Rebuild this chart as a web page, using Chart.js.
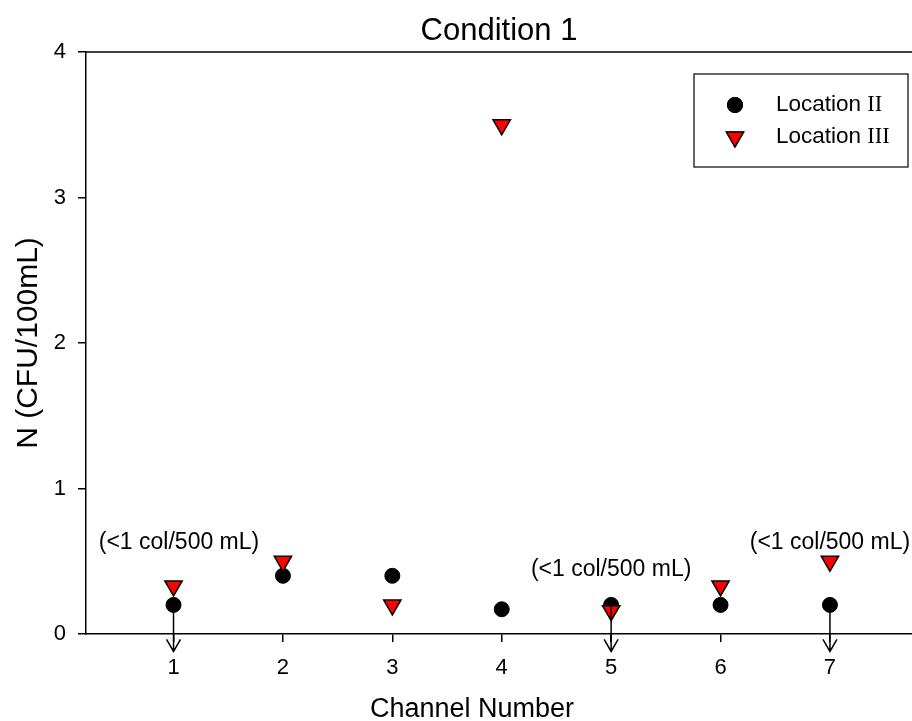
<!DOCTYPE html>
<html lang="en">
<head>
  <meta charset="UTF-8">
  <title>Condition 1</title>
  <script src="https://cdn.jsdelivr.net/npm/chart.js"></script>
  <style>
    html, body { margin: 0; padding: 0; background: #fff; overflow: hidden; }
    #wrap { width: 912px; height: 721px; }
  </style>
</head>
<body>
<div id="wrap"><canvas id="cond1"></canvas></div>
<script>
// Channel numbers and measured counts per location
const channels = [1, 2, 3, 4, 5, 6, 7];
const locationII = [0.2, 0.4, 0.4, 0.17, 0.2, 0.2, 0.2];
const locationIII = [0.33, 0.5, 0.2, 3.5, 0.16, 0.33, 0.5];

// Channels reported below detection limit (arrow drawn down from the Location II value)
const belowLimit = [1, 5, 7];
const arrowEnd = -0.12;
const noteText = '(<1 col/500 mL)';
const noteX = [1.05, 5, 7];
const noteY = [0.63, 0.44, 0.63];

const yTicks = [0, 1, 2, 3, 4];

const SANS = '"Liberation Sans", Arial, sans-serif';
const SERIF = '"Liberation Serif", "Times New Roman", serif';

const toPts = vals => channels.map((c, i) => ({ x: c, y: vals[i] }));

// title, frame line along the top, arrows, notes, x title and the boxed legend
const extras = {
  id: 'extras',
  afterDatasetsDraw(chart) {
    const { ctx, chartArea: a, scales: { x, y } } = chart;
    ctx.save();
    ctx.strokeStyle = '#000';
    ctx.lineWidth = 1.5;
    ctx.beginPath();
    ctx.moveTo(a.left, a.top);
    ctx.lineTo(a.right, a.top);
    ctx.stroke();

    // arrows
    belowLimit.forEach(ch => {
      const px = x.getPixelForValue(ch);
      const y0 = y.getPixelForValue(locationII[channels.indexOf(ch)]);
      const y1 = y.getPixelForValue(arrowEnd);
      ctx.lineWidth = 1.5;
      ctx.beginPath();
      ctx.moveTo(px, y0);
      ctx.lineTo(px, y1);
      ctx.moveTo(px - 7, y1 - 12);
      ctx.lineTo(px, y1);
      ctx.lineTo(px + 7, y1 - 12);
      ctx.stroke();
    });

    ctx.fillStyle = '#000';
    ctx.textAlign = 'center';

    // chart title
    ctx.textBaseline = 'alphabetic';
    ctx.font = '31px ' + SANS;
    ctx.fillText('Condition 1', (a.left + a.right) / 2, 40);

    // x axis title
    ctx.font = '27px ' + SANS;
    ctx.fillText('Channel Number', (a.left + a.right) / 2 - 27, 717);

    // notes
    ctx.font = '23px ' + SANS;
    ctx.textBaseline = 'middle';
    noteX.forEach((nx, i) => {
      ctx.fillText(noteText, x.getPixelForValue(nx), y.getPixelForValue(noteY[i]));
    });

    // legend
    const bx = a.right - 218, by = a.top + 22, bw = 214, bh = 93;
    ctx.lineWidth = 1.2;
    ctx.strokeRect(bx, by, bw, bh);
    const entries = [
      { ds: chart.data.datasets[0], label: 'II', cy: by + 31 },
      { ds: chart.data.datasets[1], label: 'III', cy: by + 63 }
    ];
    entries.forEach(e => {
      Chart.helpers.drawPoint(ctx, {
        pointStyle: e.ds.pointStyle,
        rotation: e.ds.rotation || 0,
        radius: e.ds.pointRadius,
        borderWidth: e.ds.borderWidth
      }, bx + 41, e.cy);
      ctx.fillStyle = e.ds.backgroundColor;
      ctx.strokeStyle = e.ds.borderColor;
      ctx.lineWidth = e.ds.borderWidth;
      ctx.fill();
      ctx.stroke();
      ctx.fillStyle = '#000';
      ctx.textAlign = 'left';
      ctx.font = '22.5px ' + SANS;
      const lead = 'Location ';
      ctx.fillText(lead, bx + 82, e.cy);
      const w = ctx.measureText(lead).width;
      ctx.font = '22.5px ' + SERIF;
      ctx.fillText(e.label, bx + 82 + w, e.cy);
    });
    ctx.restore();
  }
};

new Chart(document.getElementById('cond1'), {
  type: 'scatter',
  data: {
    datasets: [
      {
        label: 'Location II',
        data: toPts(locationII),
        pointStyle: 'circle',
        pointRadius: 7.5,
        backgroundColor: '#000000',
        borderColor: '#000000',
        borderWidth: 1,
        order: 1
      },
      {
        label: 'Location III',
        data: toPts(locationIII),
        pointStyle: 'triangle',
        rotation: 180,
        pointRadius: 10,
        backgroundColor: '#ff0000',
        borderColor: '#000000',
        borderWidth: 1.5,
        order: 0
      }
    ]
  },
  options: {
    responsive: true,
    maintainAspectRatio: false,
    animation: false,
    layout: { autoPadding: false, padding: { left: 0, right: 0, top: 52, bottom: 0 } },
    plugins: {
      legend: { display: false },
      tooltip: { enabled: false },
      title: { display: false }
    },
    scales: {
      x: {
        type: 'linear',
        min: 0.2,
        max: 7.75,
        afterFit: s => { s.height = 87; s.paddingLeft = 0; s.paddingRight = 0; },
        afterBuildTicks: s => { s.ticks = channels.map(v => ({ value: v })); },
        grid: { display: true, drawOnChartArea: false, drawTicks: true, tickLength: 8, color: '#000', lineWidth: 1.5 },
        border: { display: true, color: '#000', width: 1.5 },
        ticks: { color: '#000', padding: 13, font: { family: SANS, size: 22 } }
      },
      y: {
        min: 0,
        max: 4,
        afterFit: s => { s.width = 86; s.paddingTop = 0; s.paddingBottom = 0; },
        afterBuildTicks: s => { s.ticks = yTicks.map(v => ({ value: v })); },
        grid: { display: true, drawOnChartArea: false, drawTicks: true, tickLength: 8, color: '#000', lineWidth: 1.5 },
        border: { display: true, color: '#000', width: 1.5 },
        ticks: { color: '#000', padding: 12, font: { family: SANS, size: 22 } },
        title: {
          display: true,
          text: 'N (CFU/100mL)',
          color: '#000',
          font: { family: SANS, size: 30 },
          padding: { top: 11, bottom: 0 }
        }
      }
    }
  },
  plugins: [extras]
});
</script>
</body>
</html>
